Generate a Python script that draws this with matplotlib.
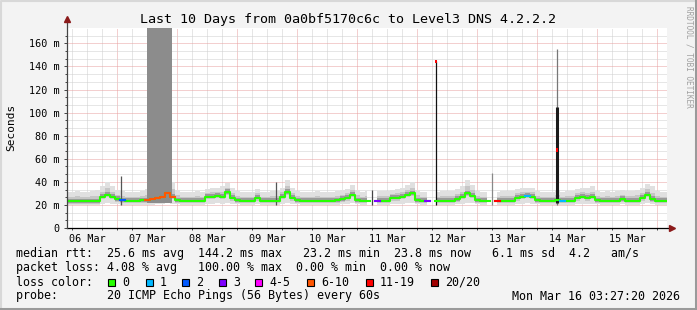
"""SmokePing style 10-day latency chart (median rtt, smoke, packet loss colours)."""

import matplotlib

matplotlib.use("Agg")
import matplotlib.pyplot as plt
import numpy as np
from matplotlib.lines import Line2D
from matplotlib.patches import Rectangle

W, H = 697, 310
MONO = "DejaVu Sans Mono"
nan = np.nan

TITLE = "Last 10 Days from 0a0bf5170c6c to Level3 DNS 4.2.2.2"
DAY_LABELS = ["06 Mar", "07 Mar", "08 Mar", "09 Mar", "10 Mar",
              "11 Mar", "12 Mar", "13 Mar", "14 Mar", "15 Mar"]
Y_TICKS = [0, 20, 40, 60, 80, 100, 120, 140, 160]
Y_LABELS = ["0", "20 m", "40 m", "60 m", "80 m", "100 m", "120 m", "140 m", "160 m"]

# hours since 06 Mar 00:00, one sample every 2 h (06 Mar 04:00 .. 16 Mar 04:00)
HOURS = np.arange(4, 245, 2)

# median rtt (ms), one row per day
MEDIAN = [
    23, 23, 23, 23, 23, 23, 23, 27, 29, 27,
    25, 24, 23.5, 23.5, 23.5, 24, 24, 25, 26, 27, 30, 27,
    24, 23.5, 23.5, 23.5, 23.5, 23.5, 27, 27, 28, 27, 31, 26,
    24, 23.5, 23.5, 23.5, 26, 23.5, 23.5, 23.5, 23.5, 27, 31, 26,
    24, 23.5, 23.5, 23.5, 23.5, 23.5, 23.5, 23.5, 24, 25, 26, 29,
    24, 23.5, 23.5, nan, 23.5, 23.5, 23.5, 26, 26, 27, 29, 30,
    24, 23.5, 23.5, nan, 23.5, 23.5, 23.5, 23.5, 25, 27, 30, 28,
    24, 23.5, 23.5, nan, 23.5, 23.5, 23.5, 23.5, 26, 27, 28, 27,
    24, 23.5, 23.5, 23.5, 24, 23.5, 23.5, 23.5, 26, 27, 26, 27,
    24, 23.5, 23.5, 23.5, 23.5, 25, 23.5, 23.5, 23.5, 26, 29, 25,
    23.5, 23.5, 23.5,
]

# smoke: slowest / fastest ping of each sample (ms)
SMOKE_HI = [
    31, 31, 32, 31, 31, 32, 33, 36, 40, 36,
    33, 32, 31, 31, 31, 32, 34, 36, 38, 40, 44, 40,
    33, 31, 31, 31, 32, 31, 34, 35, 35, 36, 39, 35,
    32, 31, 31, 31, 34, 31, 31, 32, 32, 35, 42, 35,
    32, 31, 31, 31, 32, 31, 31, 31, 32, 33, 34, 37,
    33, 31, 32, nan, 32, 32, 32, 33, 34, 35, 37, 40,
    33, 31, 31, nan, 31, 32, 32, 32, 34, 36, 42, 37,
    32, 31, 31, nan, 31, 32, 32, 32, 34, 35, 35, 35,
    32, 31, 31, 31, 33, 31, 32, 32, 34, 35, 35, 36,
    32, 31, 32, 31, 32, 33, 32, 32, 33, 35, 38, 36,
    32, 31, 31,
]
SMOKE_LO = [
    20, 20, 20, 20, 20, 20, 20, 21, 22, 21,
    20.5, 20, 20, 20, 20, 20, 20, 20, 20.5, 21, 22, 21,
    20.5, 20, 20, 20, 20, 20, 21, 21, 21.5, 21, 22, 21,
    20.5, 20, 20, 20, 20.5, 20, 20, 20, 20, 21, 22, 21,
    20.5, 20, 20, 20, 20, 20, 20, 20, 20, 20.5, 21, 22,
    20.5, 20, 20, nan, 20, 20, 20, 20.5, 20.5, 21, 22, 22,
    20.5, 20, 20, nan, 20, 20, 20, 20, 20.5, 21, 22, 21.5,
    20.5, 20, 20, nan, 20, 20, 20, 20, 20.5, 21, 21.5, 21,
    20.5, 20, 20, 20, 20, 20, 20, 20, 20.5, 21, 20.5, 21,
    20.5, 20, 20, 20, 20, 20.5, 20, 20, 20, 20.5, 22, 21,
    20, 20, 20,
]

# samples with packet loss: hour -> loss class (index into LOSS_NAMES)
LOSS_HOURS = [26, 36, 38, 40, 42, 44, 46, 128, 148, 176, 188, 202]
LOSS_CLASS = [2, 5, 5, 5, 5, 5, 5, 3, 3, 6, 1, 1]

LOSS_NAMES = ["0", "1", "2", "3", "4-5", "6-10", "11-19", "20/20"]
LOSS_COLORS = ["#26ff00", "#00b8ff", "#0059ff", "#7e00ff",
               "#ff00ff", "#ff5500", "#ff0000", "#a10000"]

# outage block on 07 Mar (hours) and its lower edge (ms)
OUTAGE_START, OUTAGE_END, OUTAGE_LOW = 35.9, 45.9, 22

# isolated spikes: hour, top (ms), colour
SPIKE_HOURS = [25.5, 87.5, 126.0, 151.6, 173.9, 200.0]
SPIKE_TOP = [45, 40, 33, 145, 48, 155]
SPIKE_COLOR = ["#555555", "#555555", "#444444", "#111111", "#888888", "#777777"]
# thick dark part of the 14 Mar spike
BAR_HOUR, BAR_TOP = 200.0, 105
# red median marks on spikes
RED_HOURS = [151.6, 200.0]
RED_VALUES = [145, 68]

STATS_RTT = "median rtt:  25.6 ms avg  144.2 ms max   23.2 ms min  23.8 ms now   6.1 ms sd  4.2   am/s"
STATS_LOSS = "packet loss: 4.08 % avg   100.00 % max  0.00 % min  0.00 % now"
PROBE = "probe:       20 ICMP Echo Pings (56 Bytes) every 60s"
STAMP = "Mon Mar 16 03:27:20 2026"


def fx(x):
    return x / W


def fy(y):
    return 1 - y / H


def main():
    fig = plt.figure(figsize=(W / 100, H / 100), dpi=100, facecolor="#f3f3f3")
    ax = fig.add_axes([fx(67), fy(228), 600 / W, 200 / H])
    ax.set_facecolor("white")
    x0, x1 = 3.9, 243.9
    y1 = 173.3
    ax.set_xlim(x0, x1)
    ax.set_ylim(0, y1)
    for s in ax.spines.values():
        s.set_visible(False)

    # grid
    for h in np.arange(6, 244, 6):
        major = h % 24 == 0
        ax.axvline(h, color="#e8a0a0" if major else "#cfcfcf", lw=0.72,
                   ls=(0, (1, 1)), zorder=0.5)
    for v in np.arange(20 / 3, y1, 20 / 3):
        major = abs(v / 20 - round(v / 20)) < 1e-6
        ax.axhline(v, color="#e8a0a0" if major else "#cfcfcf", lw=0.72,
                   ls=(0, (1, 1)), zorder=0.5)

    med = np.array(MEDIAN, dtype=float)
    hi = np.array(SMOKE_HI, dtype=float)
    lo = np.array(SMOKE_LO, dtype=float)

    # smoke layers
    ax.fill_between(HOURS, lo, hi, step="mid", color="#e0e0e0", lw=0, zorder=1)
    ax.fill_between(HOURS, med - 2.2, med + (hi - med) * 0.5, step="mid",
                    color="#c6c6c6", lw=0, zorder=1.1)
    ax.fill_between(HOURS, med - 1.2, med + 2.4, step="mid",
                    color="#9a9a9a", lw=0, zorder=1.2)

    # outage block
    ax.fill_between([OUTAGE_START, OUTAGE_END], OUTAGE_LOW, y1,
                    color="#8c8c8c", lw=0, zorder=1.5)

    # spikes
    ax.vlines(SPIKE_HOURS, 20, SPIKE_TOP, colors=SPIKE_COLOR, lw=0.9, zorder=2)
    ax.vlines([BAR_HOUR], 22, [BAR_TOP], colors="#1a1a1a", lw=2.2, zorder=2.1)

    # median line coloured by loss
    loss = np.zeros(len(HOURS), dtype=int)
    for h, c in zip(LOSS_HOURS, LOSS_CLASS):
        loss[np.where(HOURS == h)[0]] = c
    ax.plot(HOURS, med, drawstyle="steps-mid", color=LOSS_COLORS[0], lw=1.5, zorder=3)
    for c in sorted(set(LOSS_CLASS)):
        ax.plot(HOURS, np.where(loss == c, med, nan), drawstyle="steps-mid",
                color=LOSS_COLORS[c], lw=1.5, zorder=3.1)
    ax.vlines(RED_HOURS, np.array(RED_VALUES) - 2, np.array(RED_VALUES) + 1,
              colors="#ff0000", lw=1.4, zorder=3.2)

    # ticks
    ax.set_xticks(np.arange(12, 240, 24), DAY_LABELS, family=MONO, fontsize=7.3)
    ax.set_xticks(np.arange(6, 244, 6), minor=True)
    ax.tick_params(axis="x", which="major", length=0, pad=4, colors="black")
    ax.tick_params(axis="x", which="minor", length=1.6, width=0.7, color="#444444")
    ax.set_yticks(Y_TICKS, Y_LABELS, family=MONO, fontsize=7.3)
    ax.set_yticks(np.arange(20 / 3, y1, 20 / 3), minor=True)
    ax.tick_params(axis="y", which="major", length=2.2, width=0.7, pad=3, color="#444444")
    ax.tick_params(axis="y", which="minor", length=1.4, width=0.7, color="#444444")

    # axes with arrows
    ax.add_line(Line2D([0, 1.006], [0, 0], transform=ax.transAxes, color="black",
                       lw=0.9, clip_on=False, zorder=4))
    ax.add_line(Line2D([0, 0], [0, 1.035], transform=ax.transAxes, color="#444444",
                       lw=0.9, clip_on=False, zorder=4))
    ax.plot([1.009], [0], marker=">", ms=4, color="#8b1a1a", transform=ax.transAxes,
            clip_on=False, zorder=5)
    ax.plot([0], [1.045], marker="^", ms=4, color="#8b1a1a", transform=ax.transAxes,
            clip_on=False, zorder=5)

    # texts
    fig.text(0.5, fy(19), TITLE, ha="center", va="center", family=MONO, fontsize=9.6)
    fig.text(fx(11), fy(127), "Seconds", rotation=90, ha="center", va="center",
             family=MONO, fontsize=8)
    fig.text(fx(689), fy(6), "RRDTOOL / TOBI OETIKER", rotation=270, ha="center",
             va="top", family=MONO, fontsize=5.6, color="#a0a0a0")

    fs = 8.4
    fig.text(fx(16), fy(254), STATS_RTT, ha="left", va="center", family=MONO, fontsize=fs)
    fig.text(fx(16), fy(268), STATS_LOSS, ha="left", va="center", family=MONO, fontsize=fs)
    fig.text(fx(16), fy(282), "loss color:", ha="left", va="center", family=MONO, fontsize=fs)
    fig.text(fx(16), fy(296), PROBE, ha="left", va="center", family=MONO, fontsize=fs)
    fig.text(fx(680), fy(296), STAMP, ha="right", va="center", family=MONO, fontsize=fs)

    sq_x = [108, 146, 182, 219, 255, 307, 366, 431]
    for x, name, col in zip(sq_x, LOSS_NAMES, LOSS_COLORS):
        fig.add_artist(Rectangle((fx(x), fy(286)), 7 / W, 7 / H, transform=fig.transFigure,
                                 facecolor=col, edgecolor="black", lw=0.8))
        fig.text(fx(x + 14), fy(282), name, ha="left", va="center", family=MONO, fontsize=fs)

    # frame round the picture
    fig.add_artist(Line2D([fx(1), fx(1), fx(696)], [fy(309), fy(1), fy(1)],
                          transform=fig.transFigure, color="#d8d8d8", lw=1.5))
    fig.add_artist(Line2D([fx(0), fx(695.5), fx(695.5)], [fy(308.5), fy(308.5), fy(0)],
                          transform=fig.transFigure, color="#9a9a9a", lw=2.2))

    fig.savefig("out.png", dpi=100, facecolor=fig.get_facecolor())
    plt.close(fig)


if __name__ == "__main__":
    main()
